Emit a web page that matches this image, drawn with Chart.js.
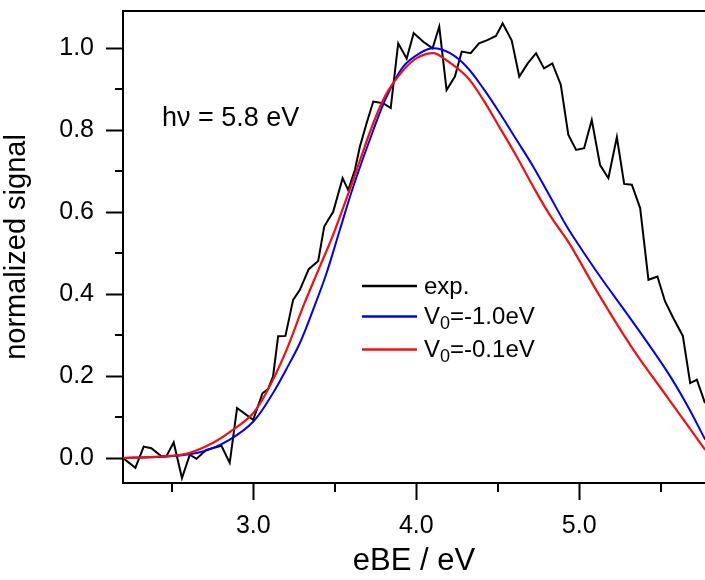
<!DOCTYPE html>
<html>
<head>
<meta charset="utf-8">
<script src="https://cdn.jsdelivr.net/npm/chart.js@4/dist/chart.umd.min.js"></script>
<style>
  html, body { margin: 0; padding: 0; background: #fff; }
  #wrap { width: 705px; height: 580px; }
</style>
</head>
<body>
<div id="wrap"><canvas id="spectrum"></canvas></div>
<script>
// experimental spectrum (eBE in eV, normalized signal)
const expX = [2.200, 2.276, 2.327, 2.374, 2.436, 2.466, 2.511, 2.562, 2.610, 2.651, 2.712, 2.804, 2.855,
  2.900, 2.999, 3.056, 3.090, 3.121, 3.152, 3.197, 3.244, 3.285, 3.340, 3.398, 3.435, 3.459, 3.490,
  3.548, 3.582, 3.623, 3.654, 3.695, 3.736, 3.797, 3.843, 3.889, 3.941, 3.984, 4.043, 4.100, 4.141,
  4.186, 4.237, 4.279, 4.334, 4.385, 4.436, 4.489, 4.530, 4.586, 4.632, 4.684, 4.735, 4.784, 4.835,
  4.887, 4.933, 4.981, 5.030, 5.077, 5.128, 5.179, 5.231, 5.276, 5.323, 5.374, 5.425, 5.480, 5.527,
  5.578, 5.636, 5.681, 5.722, 5.772];
const expY = [0.000, -0.024, 0.028, 0.024, 0.004, 0.004, 0.038, -0.049, 0.008, -0.002, 0.020, 0.030, -0.012,
  0.122, 0.093, 0.158, 0.168, 0.199, 0.297, 0.298, 0.386, 0.410, 0.461, 0.481, 0.565, 0.581, 0.601,
  0.683, 0.654, 0.703, 0.760, 0.817, 0.870, 0.866, 0.854, 1.012, 0.975, 1.037, 1.016, 1.000, 1.053,
  0.898, 0.931, 0.992, 0.988, 1.012, 1.020, 1.030, 1.061, 1.019, 0.931, 0.963, 0.988, 0.951, 0.963,
  0.911, 0.789, 0.752, 0.756, 0.825, 0.715, 0.683, 0.783, 0.669, 0.667, 0.610, 0.435, 0.443, 0.382,
  0.341, 0.298, 0.183, 0.191, 0.134];

// simulation, V0 = -1.0 eV
const v1X = [2.20, 2.49, 2.69, 2.855, 3.00, 3.12, 3.20, 3.285, 3.367, 3.449, 3.531, 3.613, 3.736, 3.818,
  3.920, 4.022, 4.104, 4.207, 4.309, 4.411, 4.514, 4.616, 4.718, 4.821, 4.924, 5.005, 5.128, 5.333,
  5.538, 5.661, 5.773];
const v1Y = [0.000, 0.004, 0.016, 0.045, 0.089, 0.158, 0.215, 0.280, 0.362, 0.451, 0.557, 0.662, 0.800, 0.882,
  0.955, 0.988, 1.000, 0.988, 0.955, 0.902, 0.841, 0.776, 0.711, 0.638, 0.565, 0.515, 0.443, 0.330,
  0.212, 0.130, 0.045];

// simulation, V0 = -0.1 eV
const v2X = [2.20, 2.40, 2.589, 2.753, 2.876, 3.00, 3.10, 3.204, 3.306, 3.408, 3.49, 3.613, 3.736, 3.818,
  3.920, 4.002, 4.104, 4.166, 4.309, 4.411, 4.514, 4.616, 4.718, 4.821, 4.903, 4.954, 5.128, 5.333,
  5.538, 5.773];
const v2Y = [0.000, 0.003, 0.010, 0.037, 0.069, 0.110, 0.175, 0.264, 0.370, 0.467, 0.545, 0.679, 0.817, 0.890,
  0.946, 0.976, 0.988, 0.976, 0.931, 0.874, 0.805, 0.736, 0.662, 0.592, 0.545, 0.514, 0.394, 0.264,
  0.150, 0.020];

const seriesLabels = ['exp.', 'V_0=-1.0eV', 'V_0=-0.1eV'];
const seriesColors = ['#000000', '#0000f0', '#f01010'];

const xMajor = [3.0, 4.0, 5.0];
const xMinor = [2.5, 3.5, 4.5, 5.5];
const yMajor = [0.0, 0.2, 0.4, 0.6, 0.8, 1.0];
const yMinor = [0.1, 0.3, 0.5, 0.7, 0.9];

const FONT = '"Liberation Sans", Arial, sans-serif';

function pts(xs, ys) {
  return xs.map((x, i) => ({ x: x, y: ys[i] }));
}

// top frame line + minor tick marks
const framePlugin = {
  id: 'frame',
  afterDraw(chart) {
    const { ctx, chartArea: a, scales: { x, y } } = chart;
    ctx.save();
    ctx.strokeStyle = '#000';
    ctx.lineWidth = 2;
    ctx.beginPath();
    ctx.moveTo(a.left - 1, a.top);
    ctx.lineTo(a.right, a.top);
    xMinor.forEach(v => {
      const px = Math.round(x.getPixelForValue(v));
      ctx.moveTo(px, a.bottom);
      ctx.lineTo(px, a.bottom + 9);
    });
    yMinor.forEach(v => {
      const py = Math.round(y.getPixelForValue(v));
      ctx.moveTo(a.left, py);
      ctx.lineTo(a.left - 8, py);
    });
    ctx.stroke();
    ctx.restore();
  }
};

// legend inside the plot, with subscript support ("_0")
const legendPlugin = {
  id: 'innerLegend',
  afterDraw(chart, args, opts) {
    const { ctx } = chart;
    ctx.save();
    let yy = opts.y;
    chart.data.datasets.forEach((ds, i) => {
      if (i > 0) yy += opts.step[i];
      ctx.strokeStyle = ds.borderColor;
      ctx.lineWidth = 2.5;
      ctx.beginPath();
      ctx.moveTo(opts.x, yy);
      ctx.lineTo(opts.x + opts.len, yy);
      ctx.stroke();

      ctx.fillStyle = '#000';
      ctx.textBaseline = 'middle';
      let tx = opts.x + opts.len + 7;
      const parts = ds.label.split(/_(.)/);
      parts.forEach((p, k) => {
        const sub = k % 2 === 1;
        ctx.font = (sub ? 18 : 24) + 'px ' + FONT;
        ctx.fillText(p, tx, sub ? yy + 8 : yy + 1);
        tx += ctx.measureText(p).width;
      });
    });
    ctx.restore();
  }
};

const notePlugin = {
  id: 'note',
  afterDraw(chart) {
    const { ctx } = chart;
    ctx.save();
    ctx.fillStyle = '#000';
    ctx.font = '27px ' + FONT;
    ctx.textBaseline = 'alphabetic';
    ctx.fillText('h\u03bd = 5.8 eV', 162, 126);
    ctx.restore();
  }
};

const ctx = document.getElementById('spectrum').getContext('2d');
new Chart(ctx, {
  type: 'line',
  data: {
    datasets: [
      { label: seriesLabels[0], data: pts(expX, expY), borderColor: seriesColors[0], borderWidth: 2, tension: 0, order: 3 },
      { label: seriesLabels[1], data: pts(v1X, v1Y), borderColor: seriesColors[1], borderWidth: 2, tension: 0.35, order: 2 },
      { label: seriesLabels[2], data: pts(v2X, v2Y), borderColor: seriesColors[2], borderWidth: 2.2, tension: 0.35, order: 1 }
    ]
  },
  options: {
    responsive: true,
    maintainAspectRatio: false,
    animation: false,
    events: [],
    layout: { padding: { top: 11, left: 0, right: 0, bottom: 0 } },
    elements: { point: { radius: 0 } },
    scales: {
      x: {
        type: 'linear',
        min: 2.2,
        max: 5.772,
        afterBuildTicks: s => { s.ticks = xMajor.map(v => ({ value: v })); },
        afterFit: s => { s.height = 97; s.paddingLeft = 0; s.paddingRight = 0; },
        grid: { drawOnChartArea: false, drawTicks: true, tickLength: 17, tickColor: '#000', tickWidth: 2 },
        border: { display: true, color: '#000', width: 2 },
        ticks: {
          color: '#000',
          padding: 11,
          font: { family: FONT, size: 25 },
          callback: v => v.toFixed(1)
        },
        title: {
          display: true,
          text: 'eBE / eV',
          color: '#000',
          font: { family: FONT, size: 31 },
          padding: { top: 0, bottom: 0 }
        }
      },
      y: {
        type: 'linear',
        min: -0.061,
        max: 1.091,
        afterBuildTicks: s => { s.ticks = yMajor.map(v => ({ value: v })); },
        afterFit: s => { s.width = 123; s.paddingTop = 0; s.paddingBottom = 0; },
        grid: { drawOnChartArea: false, drawTicks: true, tickLength: 17, tickColor: '#000', tickWidth: 2 },
        border: { display: true, color: '#000', width: 2 },
        ticks: {
          color: '#000',
          padding: 12,
          font: { family: FONT, size: 25 },
          callback: v => v.toFixed(1)
        },
        title: {
          display: true,
          text: 'normalized signal',
          color: '#000',
          font: { family: FONT, size: 29 },
          padding: { top: 0, bottom: 0 }
        }
      }
    },
    plugins: {
      legend: { display: false },
      tooltip: { enabled: false },
      innerLegend: { x: 362, y: 286, len: 55, step: [0, 30.5, 33] }
    }
  },
  plugins: [framePlugin, legendPlugin, notePlugin]
});
</script>
</body>
</html>
